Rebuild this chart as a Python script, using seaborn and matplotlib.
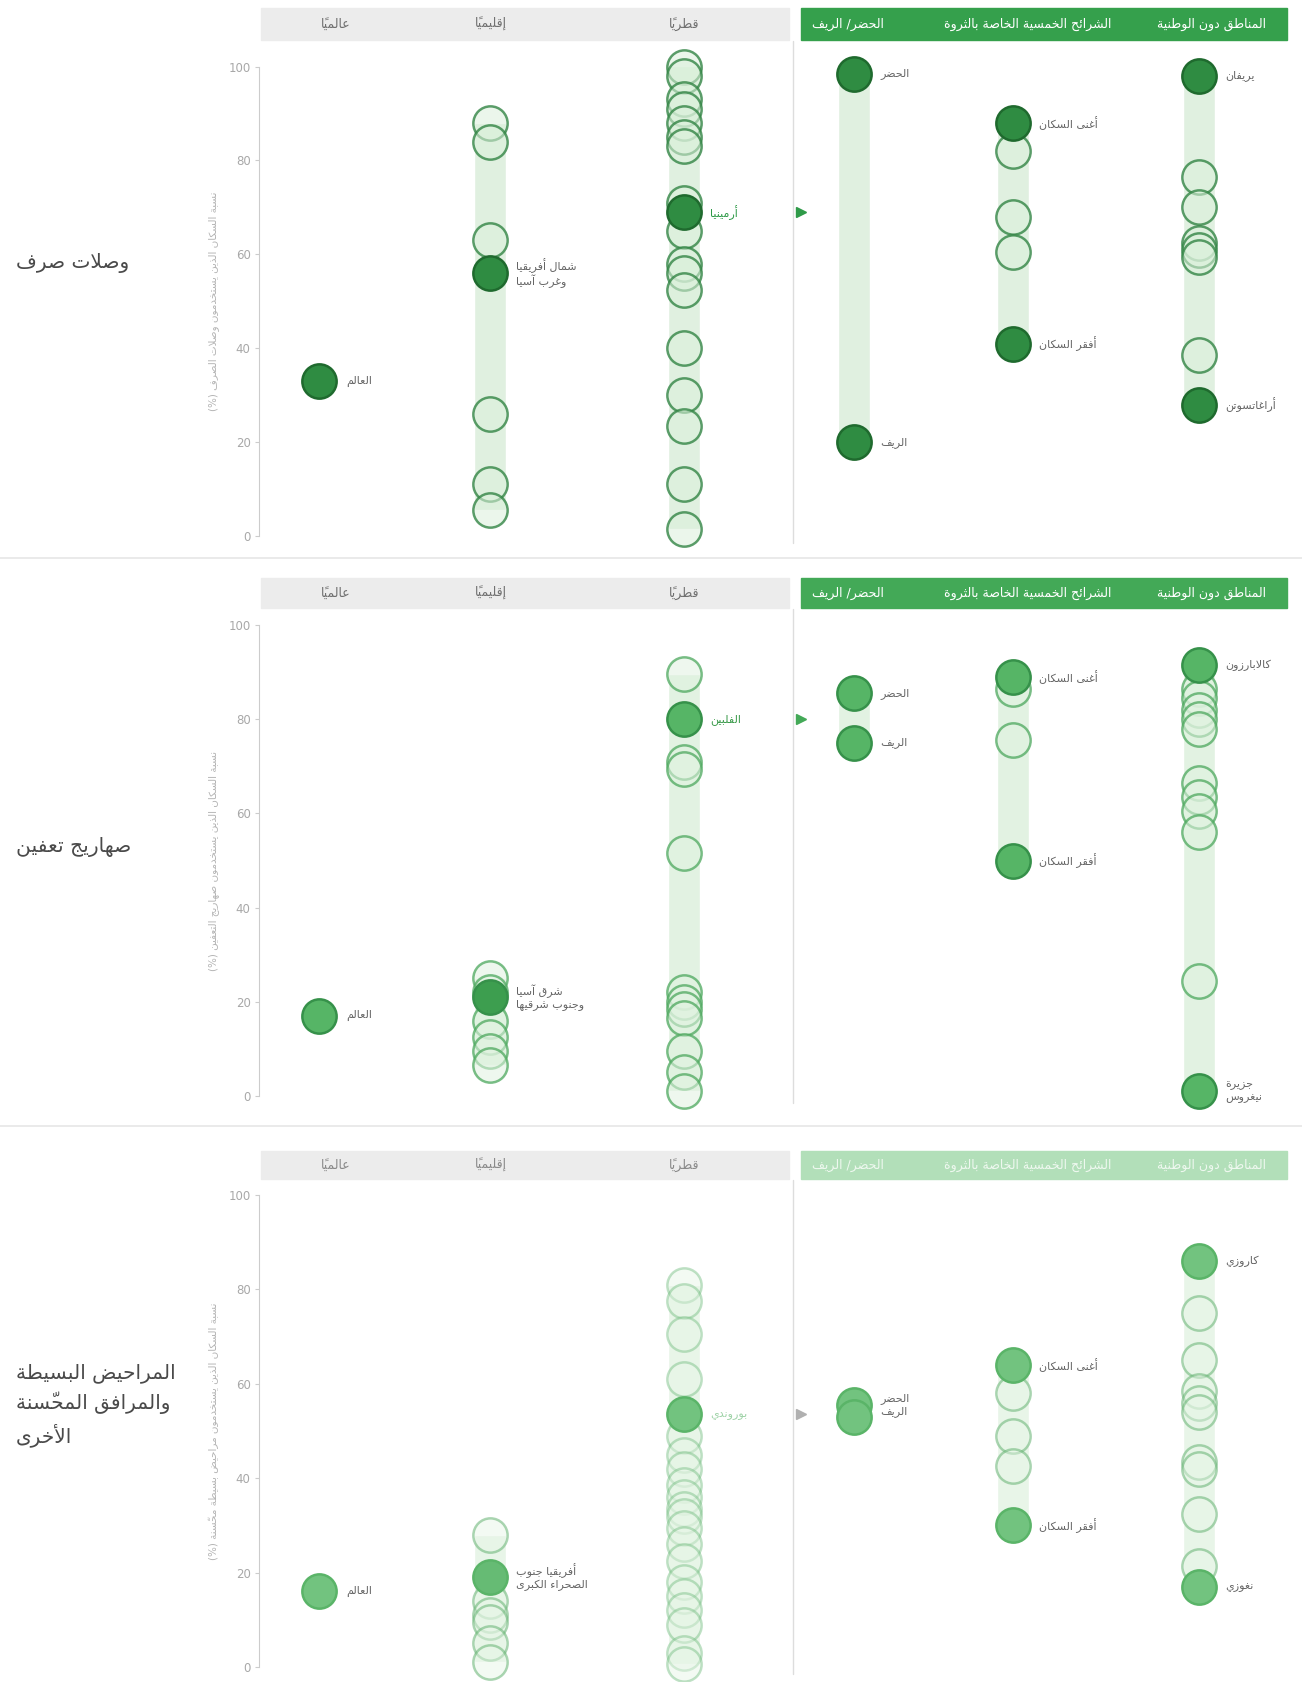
import pandas as pd
import seaborn as sns
import matplotlib.pyplot as plt
from matplotlib.patches import Rectangle
from matplotlib.lines import Line2D

# ---------------- data (share of population, %) ----------------
groups = ["global", "regional", "national", "area", "wealth", "subnational"]

# row 1: sewer connections
sewer_global = [33]
sewer_regional = [88, 84, 63, 56, 26, 11, 5.5]
sewer_national = [100, 98, 93, 91, 88, 85, 83, 71, 69, 65, 58, 56, 52.5, 40, 30, 23.5, 11, 1.5]
sewer_area = [98.5, 20]
sewer_wealth = [88, 82, 68, 60.5, 41]
sewer_subnational = [98, 76.5, 70, 62.5, 61, 59.5, 38.5, 28]
sewer_marked = [("global", 0, "العالم"), ("regional", 3, "شمال أفريقيا\nوغرب آسيا"),
                ("national", 8, "أرمينيا"), ("area", 0, "الحضر"), ("area", 1, "الريف"),
                ("wealth", 0, "أغنى السكان"), ("wealth", 4, "أفقر السكان"),
                ("subnational", 0, "يريفان"), ("subnational", 7, "أراغاتسوتن")]

# row 2: septic tanks
septic_global = [17]
septic_regional = [25, 22, 21, 16, 12.5, 9.5, 6.5]
septic_national = [89.5, 80, 71, 69.5, 51.5, 22, 20, 18.5, 16.5, 9.5, 5, 1]
septic_area = [85.5, 75]
septic_wealth = [89, 86.5, 75.5, 50]
septic_subnational = [91.5, 86.5, 84.5, 82, 80, 78, 66.5, 63.5, 60.5, 56, 24.5, 1]
septic_marked = [("global", 0, "العالم"), ("regional", 2, "شرق آسيا\nوجنوب شرقيها"),
                 ("national", 1, "الفلبين"), ("area", 0, "الحضر"), ("area", 1, "الريف"),
                 ("wealth", 0, "أغنى السكان"), ("wealth", 3, "أفقر السكان"),
                 ("subnational", 0, "كالابارزون"), ("subnational", 11, "جزيرة\nنيغروس")]

# row 3: pit latrines and other improved facilities
latrine_global = [16]
latrine_regional = [28, 19, 14, 11, 9.5, 5, 1]
latrine_national = [81, 77.5, 70.5, 61, 53.5, 49, 45, 42, 38.5, 36, 33.5, 32, 29.5,
                    26, 22.5, 18, 15, 12, 9, 3, 0.7]
latrine_area = [55.5, 53]
latrine_wealth = [64, 58, 49, 42.5, 30]
latrine_subnational = [86, 75, 65, 58.5, 56, 54, 43.5, 42, 32.5, 21.5, 17]
latrine_marked = [("global", 0, "العالم"), ("regional", 1, "أفريقيا جنوب\nالصحراء الكبرى"),
                  ("national", 4, "بوروندي"), ("area", 0, "الحضر\nالريف"), ("area", 1, ""),
                  ("wealth", 0, "أغنى السكان"), ("wealth", 4, "أفقر السكان"),
                  ("subnational", 0, "كاروزي"), ("subnational", 10, "نغوزي")]

row_titles = ["وصلات صرف", "صهاريج تعفين", "المراحيض البسيطة\nوالمرافق المحسّنة\nالأخرى"]
y_labels = ["نسبة السكان الذين يستخدمون وصلات الصرف (%)",
            "نسبة السكان الذين يستخدمون صهاريج التعفين (%)",
            "نسبة السكان الذين يستخدمون مراحيض بسيطة محسّنة (%)"]
left_headers = ["عالمياً", "إقليمياً", "قطرياً"]
right_headers = ["الحضر/ الريف", "الشرائح الخمسية الخاصة بالثروة", "المناطق دون الوطنية"]

# ---------------- minimal Arabic shaping (matplotlib has no RTL shaping) ----------------
DUAL = {"ئ": 0xFE89, "ب": 0xFE8F, "ت": 0xFE95, "ث": 0xFE99, "ج": 0xFE9D, "ح": 0xFEA1,
        "خ": 0xFEA5, "س": 0xFEB1, "ش": 0xFEB5, "ص": 0xFEB9, "ض": 0xFEBD, "ط": 0xFEC1,
        "ظ": 0xFEC5, "ع": 0xFEC9, "غ": 0xFECD, "ف": 0xFED1, "ق": 0xFED5, "ك": 0xFED9,
        "ل": 0xFEDD, "م": 0xFEE1, "ن": 0xFEE5, "ه": 0xFEE9, "ي": 0xFEF1}
RIGHT = {"آ": 0xFE81, "أ": 0xFE83, "ؤ": 0xFE85, "إ": 0xFE87, "ا": 0xFE8D, "ة": 0xFE93,
         "د": 0xFEA9, "ذ": 0xFEAB, "ر": 0xFEAD, "ز": 0xFEAF, "و": 0xFEED, "ى": 0xFEEF}
LAM_ALEF = {"آ": 0xFEF5, "أ": 0xFEF7, "إ": 0xFEF9, "ا": 0xFEFB}
MARKS = {chr(c) for c in range(0x064B, 0x0653)} | {"\u0670"}
MIRROR = {"(": ")", ")": "("}


def shape_line(s):
    clusters = []
    for ch in s:
        if ch in MARKS and clusters:
            clusters[-1][1] += ch
        else:
            clusters.append([ch, ""])
    merged, i = [], 0
    while i < len(clusters):
        b, m = clusters[i]
        if b == "ل" and i + 1 < len(clusters) and clusters[i + 1][0] in LAM_ALEF:
            merged.append(["ل" + clusters[i + 1][0], m + clusters[i + 1][1]])
            i += 2
        else:
            merged.append([b, m])
            i += 1

    def joins_prev(b):
        return b in DUAL or b in RIGHT or len(b) == 2

    out = []
    for i, (b, m) in enumerate(merged):
        p = i > 0 and merged[i - 1][0] in DUAL and joins_prev(b)
        n = i + 1 < len(merged) and b in DUAL and joins_prev(merged[i + 1][0])
        if len(b) == 2:
            g = chr(LAM_ALEF[b[1]] + (1 if p else 0))
        elif b in DUAL:
            g = chr(DUAL[b] + (3 if p and n else 2 if n else 1 if p else 0))
        elif b in RIGHT:
            g = chr(RIGHT[b] + (1 if p else 0))
        else:
            g = MIRROR.get(b, b)
        out.append(g + m)
    return "".join(reversed(out))


def ar(text):
    return "\n".join(shape_line(line) for line in text.split("\n"))


# ---------------- layout / style ----------------
col_x = {"global": 0.38, "regional": 1.45, "national": 2.67,
         "area": 3.74, "wealth": 4.74, "subnational": 5.91}
left_header_x = [0.48, 1.46, 2.67]
right_header_x = [3.70, 4.83, 5.99]

# per row, in pixels: (y of 100, y of 0, header top, header bottom, title y)
row_px = [(66.5, 536, 8, 40, 263),
          (625, 1096, 578, 608, 847),
          (1195, 1667, 1151, 1179, 1405)]

styles = [
    dict(mark="#2f8c42", mark_edge="#1f6a2e", reg_mark="#2f8c42", ring=(0.20, 0.52, 0.27, 0.80),
         fill=(0.86, 0.94, 0.86, 0.55), band="#e0f0e0", header="#35a04c",
         header_text="white", left_text="#707070", tri="#2e9a48", country="#2e9a48",
         nat_ring=(0.20, 0.52, 0.27, 0.80)),
    dict(mark="#56b566", mark_edge="#36914a", reg_mark="#3d9e4f", ring=(0.30, 0.66, 0.37, 0.75),
         fill=(0.88, 0.95, 0.88, 0.55), band="#e2f2e2", header="#43a957",
         header_text="white", left_text="#707070", tri="#43a957", country="#3a9a4a",
         nat_ring=(0.30, 0.66, 0.37, 0.75)),
    dict(mark="#72c37f", mark_edge="#5ab468", reg_mark="#66bb74", ring=(0.40, 0.70, 0.45, 0.55),
         fill=(0.90, 0.96, 0.90, 0.45), band="#e8f5e8", header="#b2dfb9",
         header_text="#eef8ef", left_text="#8a8a8a", tri="#b0b0b0", country="#9fd3a8",
         nat_ring=(0.45, 0.74, 0.50, 0.45)),
]

rows = [
    ([sewer_global, sewer_regional, sewer_national, sewer_area, sewer_wealth, sewer_subnational], sewer_marked),
    ([septic_global, septic_regional, septic_national, septic_area, septic_wealth, septic_subnational], septic_marked),
    ([latrine_global, latrine_regional, latrine_national, latrine_area, latrine_wealth, latrine_subnational], latrine_marked),
]

sns.set_theme(style="white")
plt.rcParams["font.family"] = ["DejaVu Sans"]

W, H = 1302, 1682
fig = plt.figure(figsize=(W / 100, H / 100), dpi=100)
ax_left, ax_right = 259, 1293

for r, ((series, marked), st, (y100, y0, htop, hbot, ty)) in enumerate(zip(rows, styles, row_px)):
    ax = fig.add_axes([ax_left / W, 1 - y0 / H, (ax_right - ax_left) / W, (y0 - y100) / H])
    ax.set_xlim(0, 6.5)
    ax.set_ylim(0, 100)
    ppu = (y0 - y100) / 100.0  # pixels per unit

    df = pd.DataFrame([{"group": g, "idx": i, "value": v, "x": col_x[g]}
                       for g, vals in zip(groups, series) for i, v in enumerate(vals)])
    marks = {(g, i): lab for g, i, lab in marked}
    df["marked"] = [(g, i) in marks for g, i in zip(df["group"], df["idx"])]

    # range bands
    rng = df.groupby("group")["value"].agg(["min", "max"])
    for g, rr in rng.iterrows():
        if rr["max"] > rr["min"]:
            ax.bar(col_x[g], rr["max"] - rr["min"], bottom=rr["min"], width=0.2,
                   color=st["band"], zorder=1)

    plain = df[~df["marked"]]
    sns.scatterplot(data=plain[plain["group"] != "national"], x="x", y="value", s=610,
                    color=st["fill"], edgecolor=st["ring"], linewidth=1.8,
                    ax=ax, zorder=3, clip_on=False, legend=False)
    sns.scatterplot(data=plain[plain["group"] == "national"], x="x", y="value", s=610,
                    color=st["fill"], edgecolor=st["nat_ring"], linewidth=1.8,
                    ax=ax, zorder=3, clip_on=False, legend=False)
    hi = df[df["marked"]]
    sns.scatterplot(data=hi[hi["group"] != "regional"], x="x", y="value", s=610,
                    color=st["mark"], edgecolor=st["mark_edge"], linewidth=1.8,
                    ax=ax, zorder=4, clip_on=False, legend=False)
    sns.scatterplot(data=hi[hi["group"] == "regional"], x="x", y="value", s=610,
                    color=st["reg_mark"], edgecolor=st["mark_edge"], linewidth=1.8,
                    ax=ax, zorder=4, clip_on=False, legend=False)

    for g, i, lab in marked:
        if not lab:
            continue
        v = series[groups.index(g)][i]
        col = st["country"] if g == "national" else "#666666"
        ax.annotate(ar(lab), (col_x[g], v), xytext=(19, 0), textcoords="offset points",
                    ha="left", va="center", fontsize=8, color=col, zorder=5,
                    annotation_clip=False)
        if g == "national":
            ax.plot([3.41], [v], marker=">", markersize=7, color=st["tri"],
                    clip_on=False, zorder=5)

    # headers
    h_lo = 100 + (y100 - hbot) / ppu
    h_hi = 100 + (y100 - htop) / ppu
    ax.add_patch(Rectangle((0.01, h_lo), 3.32, h_hi - h_lo, color="#ececec",
                           clip_on=False, zorder=1))
    ax.add_patch(Rectangle((3.41, h_lo), 3.05, h_hi - h_lo, color=st["header"],
                           clip_on=False, zorder=1))
    for x, t in zip(left_header_x, left_headers):
        ax.text(x, (h_lo + h_hi) / 2, ar(t), ha="center", va="center", fontsize=9,
                color=st["left_text"])
    for x, t in zip(right_header_x, right_headers):
        ax.text(x, (h_lo + h_hi) / 2, ar(t), ha="center", va="center", fontsize=9,
                color=st["header_text"])

    # separator between national and disaggregated data
    ax.plot([3.36, 3.36], [-1.5, h_lo - 0.3], color="#dddddd", lw=1, clip_on=False, zorder=0)

    # axes styling
    for side in ["top", "right", "bottom"]:
        ax.spines[side].set_visible(False)
    ax.spines["left"].set_color("#cccccc")
    ax.spines["left"].set_linewidth(0.8)
    ax.set_xticks([])
    ax.set_yticks(range(0, 101, 20))
    ax.tick_params(axis="y", left=True, length=3, width=0.8, color="#cccccc",
                   labelsize=8.5, labelcolor="#a8a8a8", pad=3)
    ax.set_xlabel("")
    ax.set_ylabel("")
    ax.text(-0.044, 0.5, ar(y_labels[r]), transform=ax.transAxes, rotation=90,
            ha="center", va="center", fontsize=7.5, color="#b4b4b4")

    fig.text(16 / W, 1 - ty / H, ar(row_titles[r]), ha="left", va="center",
             fontsize=14.5, color="#4a4a4a", linespacing=1.5)

# horizontal separators between rows
for y in [558, 1126]:
    fig.add_artist(Line2D([0, 1], [1 - y / H, 1 - y / H], transform=fig.transFigure,
                          color="#e6e6e6", lw=1.2))

fig.savefig("out.png", dpi=100, facecolor="white")
